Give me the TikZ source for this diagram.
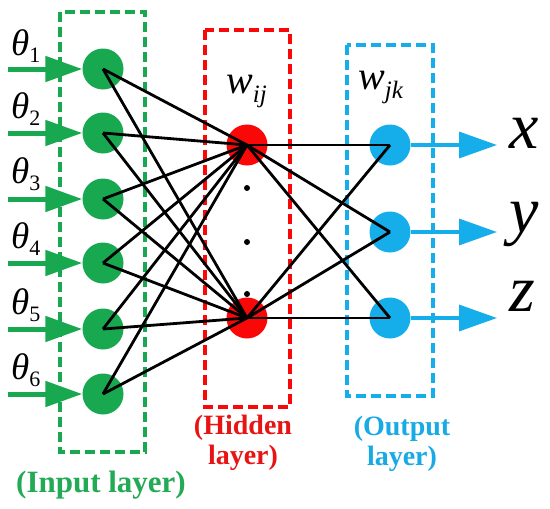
\documentclass[tikz,border=0pt]{standalone}
\usepackage{fontspec}
\setmainfont{Liberation Serif}
\usetikzlibrary{arrows.meta}
\definecolor{ngreen}{RGB}{24,168,80}
\definecolor{tgreen}{RGB}{34,170,84}
\definecolor{nred}{RGB}{250,8,8}
\definecolor{tred}{RGB}{232,20,20}
\definecolor{nblue}{RGB}{22,174,234}
\definecolor{tblue}{RGB}{24,170,228}
\newcommand{\fs}[1]{\fontsize{#1}{#1}\selectfont}
\newcommand{\thlab}[1]{{\fs{37}\itshape θ}{\fs{22}\raisebox{-7pt}{#1}}}
\begin{document}
\begin{tikzpicture}[x=1pt,y=-1pt,
  neuron/.style={circle,inner sep=0pt,minimum size=41pt},
  inneuron/.style={neuron,fill=ngreen},
  hidneuron/.style={neuron,fill=nred},
  outneuron/.style={neuron,fill=nblue},
  link/.style={black,line width=2.8pt},
  layerbox/.style={line width=3.5pt,dash pattern=on 10pt off 5pt},
  inarrow/.style={ngreen,line width=5pt,-{Triangle[length=37pt,width=25pt]}},
  outarrow/.style={nblue,line width=3.5pt,-{Triangle[length=38pt,width=26pt]}},
  lab/.style={inner sep=0pt,anchor=base west},
  layerlab/.style={font=\fs{28}\bfseries,align=center,inner sep=0pt}
]
\useasboundingbox (0,0) rectangle (550,509);
% layer boxes
\draw[layerbox,ngreen] (60,12) rectangle (145,452);
\draw[layerbox,nred] (205,30) rectangle (290,407);
\draw[layerbox,nblue] (347,45) rectangle (433,396);
% neurons
\foreach \i/\y in {1/69,2/133,3/199,4/263,5/329,6/394}{
  \node[inneuron] (i\i) at (103,\y) {};
  \coordinate (s\i) at (8,\y);
}
\node[hidneuron] (h1) at (247,145) {};
\node[hidneuron] (h2) at (247,318) {};
\foreach \k/\y in {1/145,2/232,3/318}{
  \node[outneuron] (o\k) at (390,\y) {};
  \coordinate (t\k) at (497,\y);
}
% dots
\node[circle,fill=black,inner sep=0pt,minimum size=6pt] (d1) at (247,188) {};
\node[circle,fill=black,inner sep=0pt,minimum size=6pt] (d2) at (247,242) {};
\node[circle,fill=black,inner sep=0pt,minimum size=6pt] (d3) at (247,294) {};
% links
\foreach \i in {1,...,6}{
  \draw[link] (i\i.center) -- (h1.center);
  \draw[link] (i\i.center) -- (h2.center);
}
\foreach \k in {1,2,3}{
  \draw[link] (h1.center) -- (o\k.center);
  \draw[link] (h2.center) -- (o\k.center);
}
% arrows
\foreach \i in {1,...,6}{
  \draw[inarrow] (s\i) -- (i\i.west);
}
\foreach \k in {1,2,3}{
  \draw[outarrow] (o\k.east) -- (t\k);
}
% input labels
\foreach \i/\y in {1/55,2/118,3/183,4/248,5/314,6/379}{
  \node[lab] (th\i) at (11,\y) {\thlab{\i}};
}
% weights
\node[lab] (wij) at (226,93) {{\fs{40}\itshape w}{\fs{25}\itshape\raisebox{-9pt}{ij}}};
\node[lab] (wjk) at (358,89) {{\fs{40}\itshape w}{\fs{25}\itshape\raisebox{-9pt}{jk}}};
% outputs
\node[lab] (lx) at (509,148) {\fs{66}\itshape x};
\node[lab] (ly) at (509,232) {\fs{66}\itshape y};
\node[lab] (lz) at (509,311) {\fs{66}\itshape z};
% layer labels
\node[layerlab,text=tgreen,font=\fs{31}\bfseries] (linput) at (101,485) {(Input layer)};
\node[layerlab,text=tred] (lhidden) at (243,443) {(Hidden\\[2pt]layer)};
\node[layerlab,text=tblue] (loutput) at (402,444) {(Output\\[2pt]layer)};
\end{tikzpicture}
\end{document}
